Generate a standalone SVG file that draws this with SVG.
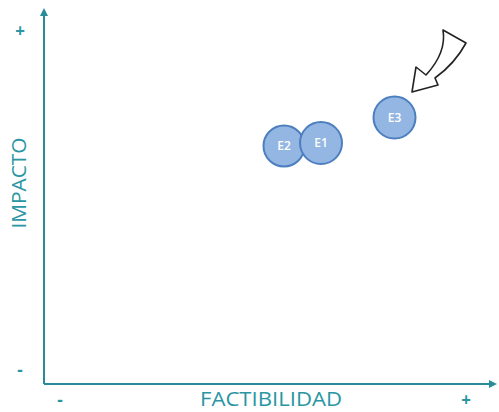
<svg xmlns="http://www.w3.org/2000/svg" width="499" height="412" viewBox="0 0 499 412">
<style>
.ax{stroke:#2a8c99;stroke-width:2;fill:none}
.lbl{font-family:"Open Sans","Liberation Sans",sans-serif;fill:#2a96a3}
.pm{font-weight:700}
.node circle{fill:#93b6e3;stroke:#4d7fbf;stroke-width:2}
.node text{font-family:"Open Sans","Liberation Sans",sans-serif;font-size:12px;fill:#ffffff;text-anchor:middle;font-weight:600}
</style>
<defs>
<marker id="ah" markerWidth="8" markerHeight="8" refX="6" refY="4" orient="auto" markerUnits="userSpaceOnUse">
<path d="M0,0 L8,4 L0,8 Z" fill="#2a8c99"/>
</marker>
</defs>
<rect width="499" height="412" fill="#ffffff"/>
<g id="connectors">
<line class="ax" x1="44" y1="384" x2="44" y2="10" marker-end="url(#ah)"/>
<line class="ax" x1="44" y1="384" x2="495" y2="384" marker-end="url(#ah)"/>
</g>
<g id="labels">
<text class="lbl pm" x="20" y="37" font-size="17" text-anchor="middle">+</text>
<text class="lbl pm" x="20" y="376" font-size="17" text-anchor="middle">-</text>
<text class="lbl pm" x="60" y="406" font-size="17" text-anchor="middle">-</text>
<text class="lbl pm" x="466" y="406" font-size="17" text-anchor="middle">+</text>
<text class="lbl" x="271" y="406" font-size="20" text-anchor="middle" textLength="142" lengthAdjust="spacingAndGlyphs">FACTIBILIDAD</text>
<text class="lbl" transform="translate(26,183) rotate(-90)" font-size="20" text-anchor="middle" textLength="91" lengthAdjust="spacingAndGlyphs">IMPACTO</text>
</g>
<g id="E2" class="node"><circle cx="284" cy="146" r="20.5"/><text x="284" y="150">E2</text></g>
<g id="E1" class="node"><circle cx="321" cy="143" r="21"/><text x="321" y="147">E1</text></g>
<g id="E3" class="node"><circle cx="394.5" cy="117.5" r="21"/><text x="394.5" y="121.5">E3</text></g>
<g id="pointer">
<path d="M443,30 L466,43 C458,58 446,70 435,78 L438,85 L412,92 L416,67 L426,75 C438,62 446,48 443,30 Z" fill="#ffffff" stroke="#222222" stroke-width="1.6" stroke-linejoin="round"/>
</g>
</svg>
